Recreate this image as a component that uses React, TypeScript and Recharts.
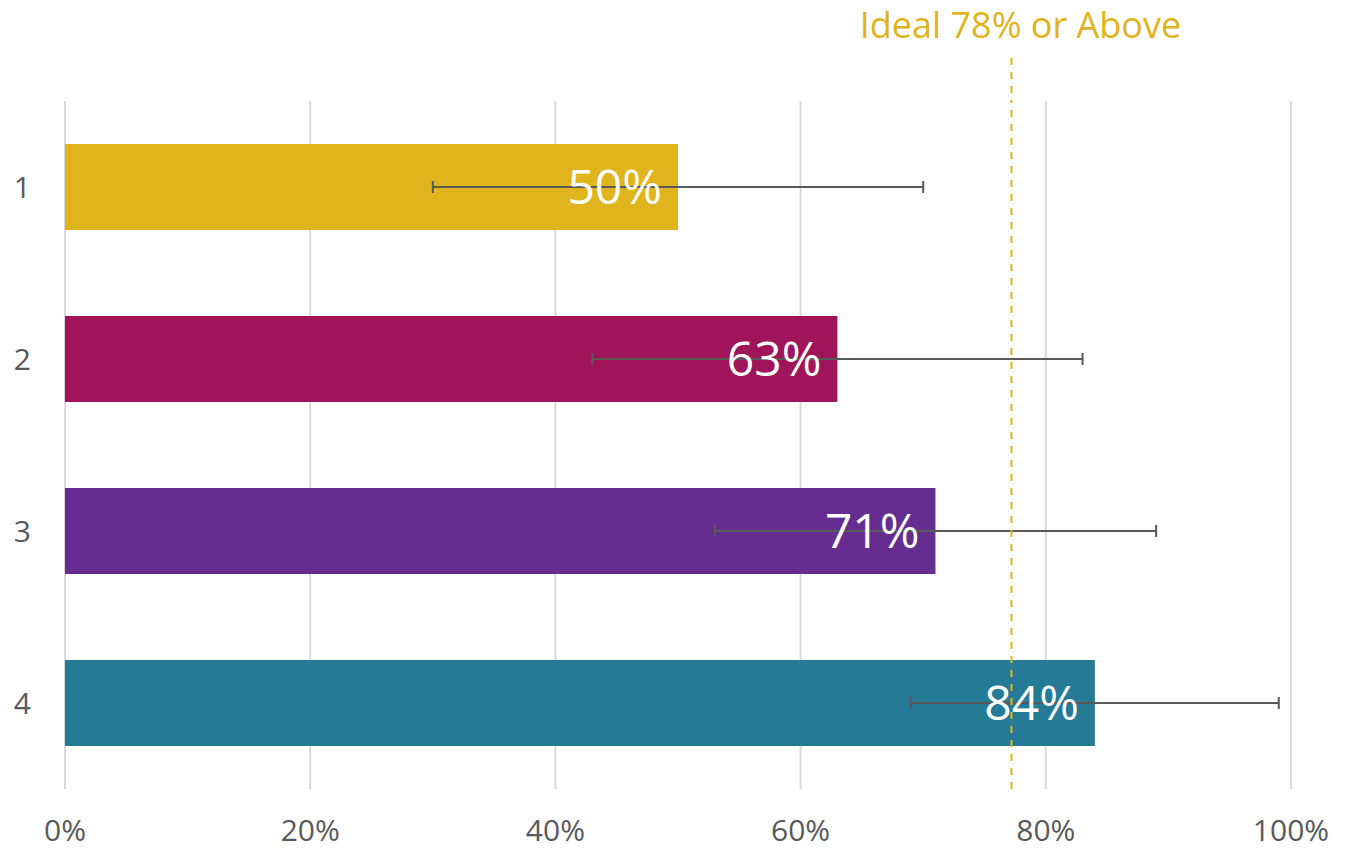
import { Bar, BarChart, CartesianGrid, Cell, ErrorBar, LabelList, ReferenceLine, XAxis, YAxis } from "recharts";

const categories = ["1", "2", "3", "4"];
const scores = [50, 63, 71, 84];
const errors = [20, 20, 18, 15];
const barColors = ["#E0B41C", "#A0145A", "#652D90", "#257B95"];
const xTicks = [0, 20, 40, 60, 80, 100];
const idealValue = 77.2;
const idealLabel = "Ideal 78% or Above";

const FONT = "'Open Sans', sans-serif";
const GOLD = "#E0B41C";

const data = categories.map((name, i) => ({
  name,
  score: scores[i],
  err: errors[i],
}));

function IdealLabel({ viewBox }: any) {
  const { x, y } = viewBox;
  return (
    <g>
      <line x1={x} y1={58} x2={x} y2={y} stroke={GOLD} strokeWidth={2} strokeDasharray="7 7" />
      <text x={x + 9} y={38} textAnchor="middle" fill={GOLD} fontSize={36} fontFamily={FONT}>
        {idealLabel}
      </text>
    </g>
  );
}

export default function App() {
  return (
    <div style={{ position: "absolute", left: 0, top: 0, background: "#fff", fontFamily: FONT }}>
      <BarChart
        width={1355}
        height={851}
        data={data}
        layout="vertical"
        margin={{ top: 101, right: 64, bottom: 12, left: 0 }}
        barCategoryGap="25%"
      >
        <CartesianGrid horizontal={false} stroke="#D9D9D9" strokeWidth={2} />
        <XAxis
          type="number"
          domain={[0, 100]}
          ticks={xTicks}
          tickFormatter={(v) => `${v}%`}
          axisLine={false}
          tickLine={false}
          height={50}
          tickMargin={25}
          tick={{ fill: "#595959", fontSize: 30, fontFamily: FONT }}
          interval={0}
        />
        <YAxis
          type="category"
          dataKey="name"
          width={65}
          axisLine={false}
          tickLine={false}
          tickMargin={28}
          tick={{ fill: "#595959", fontSize: 30, fontFamily: FONT }}
        />
        <Bar dataKey="score" isAnimationActive={false}>
          {data.map((d, i) => (
            <Cell key={d.name} fill={barColors[i]} />
          ))}
          <ErrorBar dataKey="err" direction="x" width={6} stroke="#595959" strokeWidth={2} />
          <LabelList
            dataKey="score"
            position="insideRight"
            offset={16}
            formatter={(v: any) => `${v}%`}
            fill="#fff"
            fontSize={48}
            fontFamily={FONT}
          />
        </Bar>
        <ReferenceLine
          x={idealValue}
          stroke={GOLD}
          strokeWidth={2}
          strokeDasharray="7 7"
          label={<IdealLabel />}
        />
      </BarChart>
    </div>
  );
}
